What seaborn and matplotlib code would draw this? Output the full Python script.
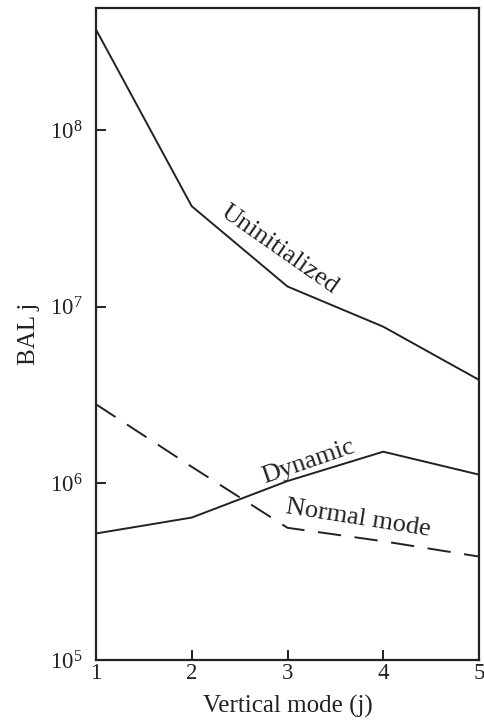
import numpy as np
import pandas as pd
import matplotlib
matplotlib.use("Agg")
import matplotlib.pyplot as plt
from matplotlib.ticker import NullLocator, LogLocator
import seaborn as sns

# data
modes = [1, 2, 3, 4, 5]
uninitialized = [3.7e8, 3.7e7, 1.3e7, 7.7e6, 3.85e6]
dynamic = [5.2e5, 6.4e5, 1.03e6, 1.51e6, 1.12e6]
normal_mode = [2.8e6, 1.24e6, 5.6e5, 4.7e5, 3.85e5]

sns.set_style("ticks")
plt.rcParams["font.family"] = ["Liberation Serif", "DejaVu Serif"]
plt.rcParams["mathtext.fontset"] = "custom"
plt.rcParams["mathtext.rm"] = "Liberation Serif"
plt.rcParams["mathtext.it"] = "Liberation Serif:italic"

ink = "#222222"

df = pd.DataFrame({"mode": modes,
                   "Uninitialized": uninitialized,
                   "Dynamic": dynamic,
                   "Normal mode": normal_mode})

fig = plt.figure(figsize=(4.84, 7.22), dpi=100)
ax = fig.add_axes([96 / 484, 1 - 660 / 722, 383 / 484, 652 / 722])

sns.lineplot(data=df, x="mode", y="Uninitialized", ax=ax, color=ink, lw=1.4)
sns.lineplot(data=df, x="mode", y="Dynamic", ax=ax, color=ink, lw=1.4)
sns.lineplot(data=df, x="mode", y="Normal mode", ax=ax, color=ink, lw=1.4,
             dashes=False, linestyle=(0, (12, 7)))

ax.set_yscale("log")
ax.set_xlim(1, 5)
ax.set_ylim(1e5, 4.9e8)
ax.set_xticks(modes)
ax.yaxis.set_major_locator(LogLocator(base=10))
ax.yaxis.set_minor_locator(NullLocator())

for s in ax.spines.values():
    s.set_linewidth(1.6)
    s.set_color(ink)

ax.tick_params(axis="both", direction="in", length=7, width=1.4, colors=ink,
               labelsize=16.5)
ax.tick_params(axis="x", pad=2)
ax.tick_params(axis="y", pad=10)

ax.set_xlabel("Vertical mode (j)", fontsize=18, color=ink, labelpad=8)
ax.set_ylabel("BAL j", fontsize=18, color=ink, labelpad=7)

# curve labels
ax.text(2.92, 2.1e7, "Uninitialized", rotation=-35, fontsize=19, color=ink,
        ha="center", va="center", rotation_mode="anchor")
ax.text(3.22, 1.33e6, "Dynamic", rotation=19, fontsize=19, color=ink,
        ha="center", va="center", rotation_mode="anchor")
ax.text(3.74, 6.3e5, "Normal mode", rotation=-9, fontsize=19, color=ink,
        ha="center", va="center", rotation_mode="anchor")

fig.savefig("out.png", dpi=100)
